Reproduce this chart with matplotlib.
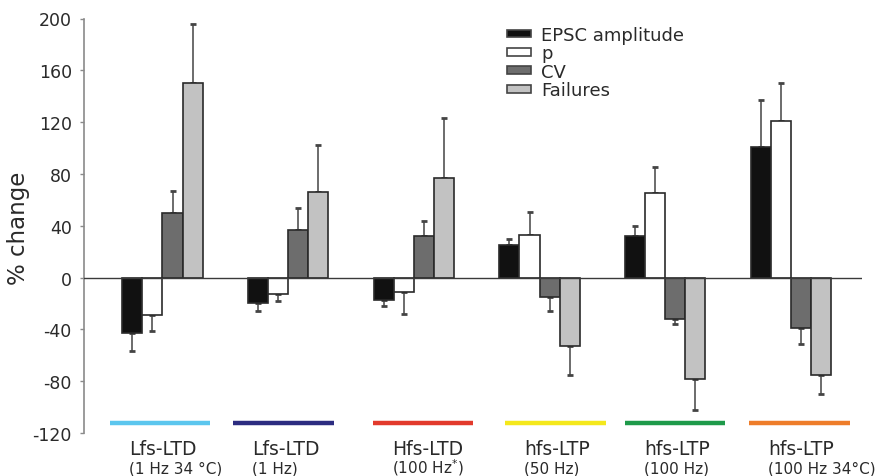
import matplotlib
matplotlib.use("Agg")
import matplotlib.pyplot as plt
import matplotlib.transforms as mtransforms
from matplotlib.patches import Patch
import numpy as np

# ---------------- data ----------------
groups = ["Lfs-LTD", "Lfs-LTD", "Hfs-LTD", "hfs-LTP", "hfs-LTP", "hfs-LTP"]
conditions = ["(1 Hz 34 \u00b0C)", "(1 Hz)", "(100 Hz$^{*}$)", "(50 Hz)", "(100 Hz)", "(100 Hz 34\u00b0C)"]
group_colors = ["#5cc6ee", "#2c2c80", "#e23a2c", "#f4e81c", "#1e9a4a", "#ee7d2a"]

series = ["EPSC amplitude", "p", "CV", "Failures"]
series_colors = ["#111111", "#ffffff", "#6d6d6d", "#c2c2c2"]

epsc = [-43, -20, -17, 25, 32, 101]
p_vals = [-29, -13, -11, 33, 65, 121]
cv = [50, 37, 32, -15, -32, -39]
failures = [150, 66, 77, -53, -78, -75]

epsc_err = [14, 6, 5, 5, 8, 36]
p_err = [12, 5, 17, 18, 20, 29]
cv_err = [17, 17, 12, 11, 4, 12]
failures_err = [46, 36, 46, 22, 24, 15]

yticks = [-120, -80, -40, 0, 40, 80, 120, 160, 200]

# ---------------- layout ----------------
W, H = 885, 477
fig = plt.figure(figsize=(W / 100, H / 100), dpi=100)
ax_left, ax_right, ax_top, ax_bottom = 83.5, 862, 19.5, 434
ax = fig.add_axes([ax_left / W, 1 - ax_bottom / H,
                   (ax_right - ax_left) / W, (ax_bottom - ax_top) / H])

x = np.arange(len(groups))
bw = 0.16
offsets = [-1.5 * bw, -0.5 * bw, 0.5 * bw, 1.5 * bw]
vals_all = [epsc, p_vals, cv, failures]
errs_all = [epsc_err, p_err, cv_err, failures_err]

for vals, errs, col, off, name in zip(vals_all, errs_all, series_colors, offsets, series):
    vals = np.array(vals, dtype=float)
    errs = np.array(errs, dtype=float)
    ax.bar(x + off, vals, width=bw, color=col, edgecolor="#2a2a2a",
           linewidth=1.2, zorder=3, label=name)
    lower = np.where(vals < 0, errs, 0)
    upper = np.where(vals >= 0, errs, 0)
    ax.errorbar(x + off, vals, yerr=[lower, upper], fmt="none",
                ecolor="#444444", elinewidth=1.1, capsize=2.2, capthick=2,
                zorder=2)

ax.axhline(0, color="#3a3a3a", linewidth=1.0, zorder=4)

ax.set_xlim(-0.628, 5.565)
ax.set_ylim(-120, 200)
ax.set_yticks(yticks)
ax.set_yticklabels([str(t) for t in yticks])
ax.set_xticks([])

for s in ["top", "right", "bottom"]:
    ax.spines[s].set_visible(False)
ax.spines["left"].set_color("#8a8a8a")
ax.spines["left"].set_linewidth(1.2)
ax.tick_params(axis="y", direction="out", length=3, width=1, color="#8a8a8a",
               labelsize=12.5, labelcolor="#2a2a2a", pad=5.4)

ax.set_ylabel("% change", fontsize=16.5, color="#2a2a2a")
ax.yaxis.set_label_coords(-0.069, 0.497)

# colored group bars + labels
line_start = [-0.418, -0.439, -0.326, -0.275, -0.321, -0.334]
line_len = 0.8
trans = mtransforms.blended_transform_factory(ax.transData, fig.transFigure)
for i in range(len(groups)):
    xs = x[i] + line_start[i]
    ax.plot([xs, xs + line_len], [-112, -112], color=group_colors[i],
            linewidth=3.2, solid_capstyle="butt", clip_on=False, zorder=3)
    ax.text(xs + 0.15, (H - 455) / H, groups[i], transform=trans,
            fontsize=13.5, color="#2a2a2a", ha="left", va="baseline")
    ax.text(xs + 0.15, (H - 474) / H, conditions[i], transform=trans,
            fontsize=11, color="#2a2a2a", ha="left", va="baseline")

# legend
handles = [Patch(facecolor=c, edgecolor="#444444", linewidth=1.2) for c in series_colors]
leg = fig.legend(handles, series, loc="upper left",
                 bbox_to_anchor=(507 / W, 1 - 27 / H), frameon=False,
                 fontsize=13, handlelength=1.35, handleheight=0.3,
                 handletextpad=0.55, labelspacing=0.02, borderpad=0,
                 borderaxespad=0)
for t in leg.get_texts():
    t.set_color("#2a2a2a")

fig.savefig("out.png", dpi=100)
